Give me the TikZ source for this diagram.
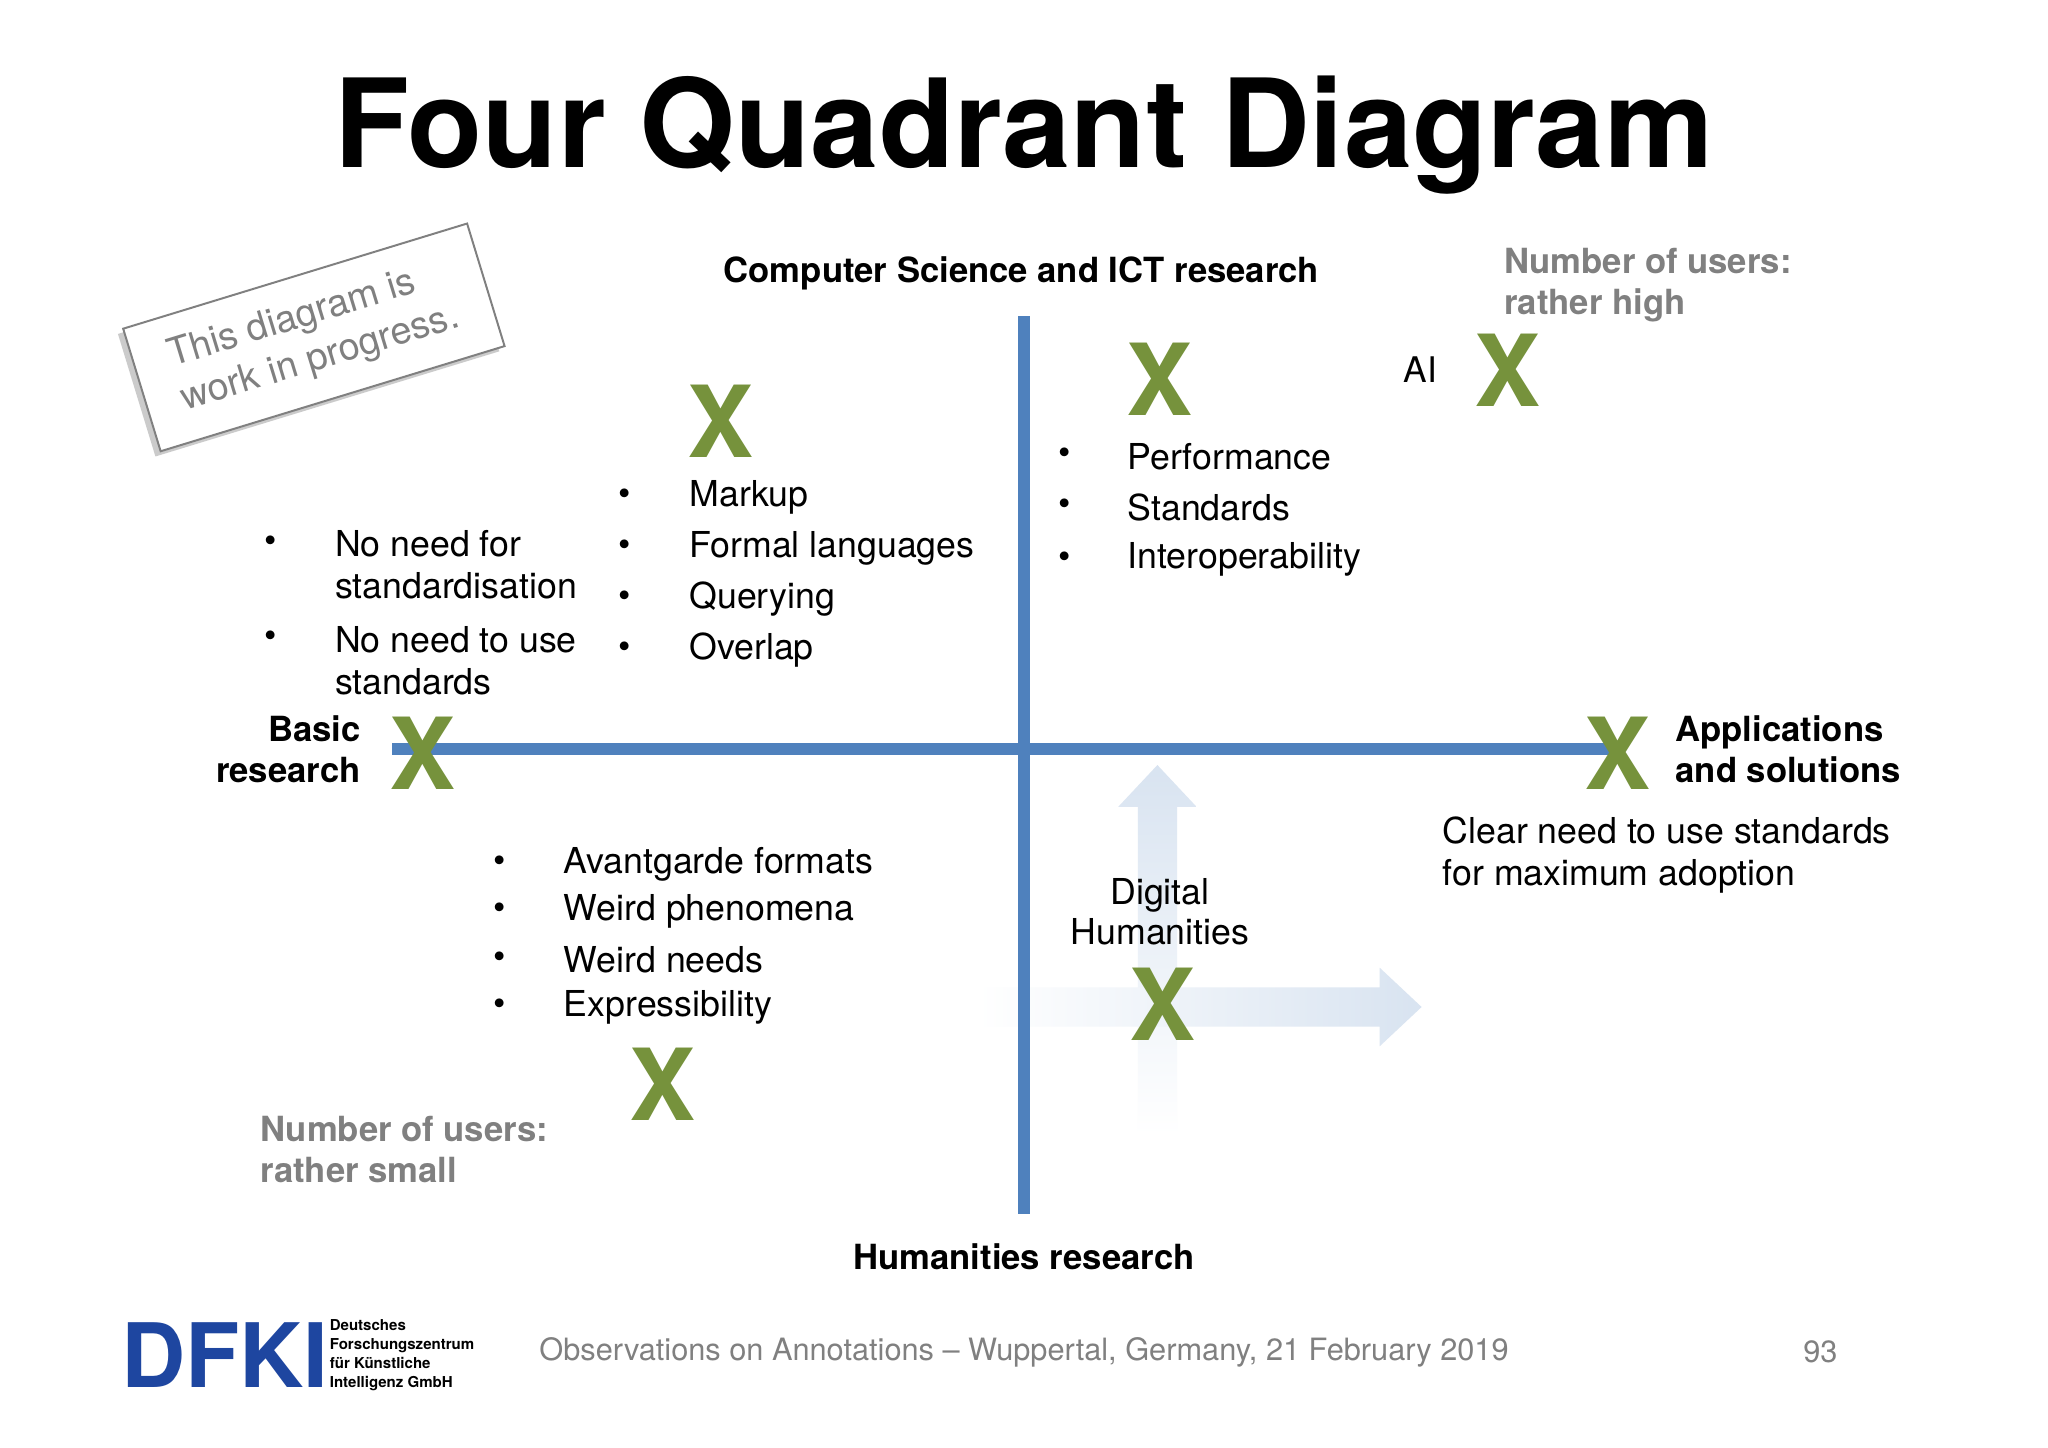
\documentclass[tikz,border=0pt]{standalone}
\usepackage{fontspec}
\setmainfont{TeX Gyre Heros}
\usetikzlibrary{shadows}
\definecolor{axisblue}{RGB}{79,129,189}
\definecolor{xgreen}{RGB}{118,146,60}
\definecolor{ugray}{RGB}{128,128,128}
\definecolor{logoblue}{RGB}{30,70,160}
\tikzset{
 xmark/.style={text=xgreen,font=\fontsize{76}{76}\selectfont\bfseries,inner sep=0},
 lbl/.style={font=\fontsize{26.5}{31}\selectfont\bfseries,inner sep=0},
 usr/.style={font=\fontsize{26.5}{31}\selectfont\bfseries,text=ugray,align=left,anchor=west,inner sep=0},
 item/.style={font=\fontsize{27.3}{32}\selectfont,anchor=west,inner sep=0,align=left},
 bul/.style={font=\fontsize{27}{32}\selectfont,inner sep=0},
 axis/.style={draw=axisblue,line width=9pt},
 fade/.style={left color=white,right color=axisblue!22,draw=none}
}
\begin{document}
\begin{tikzpicture}[x=1pt,y=1pt]
\useasboundingbox[fill=white] (0,-9.5) rectangle (1566,1097);
\node[font=\fontsize{94}{94}\selectfont\bfseries] (title) at (783,994) {Four Quadrant Diagram};
% faded arrows
\shade[fade,shading angle=0,bottom color=white,top color=axisblue!22] (870,229) -- (870,480) -- (855,480) -- (885,512) -- (915,480) -- (900,480) -- (900,229) -- cycle;
\shade[fade] (748,312) -- (1055,312) -- (1055,297) -- (1087,327) -- (1055,357) -- (1055,342) -- (748,342) -- cycle;
% axes
\coordinate (vt) at (783,855); \coordinate (vb) at (783,169);
\coordinate (hl) at (300,524); \coordinate (hr) at (1230,524);
\draw[axis] (vt) -- (vb);
\draw[axis] (hl) -- (hr);
\node[lbl] (cs) at (781,888) {Computer Science and ICT research};
\node[lbl] (hum) at (783,136) {Humanities research};
\node[lbl,align=right,anchor=east] (basic) at (276,524) {Basic\\research};
\node[lbl,align=left,anchor=west] (app) at (1281,524) {Applications\\and solutions};
% X marks
\node[xmark] (x1) at (551,775) {X};
\node[xmark] (x2) at (887,807) {X};
\node[xmark] (x3) at (1153,814) {X};
\node[xmark] (x4) at (323,521) {X};
\node[xmark] (x5) at (1237,521) {X};
\node[xmark] (x6) at (889,329) {X};
\node[xmark] (x7) at (507,268) {X};
\node[font=\fontsize{27}{32}\selectfont] (ai) at (1086,814) {AI};
\node[usr] (uh) at (1150,879) {Number of users:\\rather high};
\node[usr] (us) at (199,218) {Number of users:\\rather small};
% lists
\foreach \t/\y [count=\i] in {Markup/717,Formal languages/678,Querying/639,Overlap/600}{
 \node[bul] (b1\i) at (478,\y) {•}; \node[item] (l1\i) at (527,\y) {\t};}
\foreach \t/\y [count=\i] in {Performance/748,Standards/709,Interoperability/669}{
 \node[bul] (b2\i) at (814,\y) {•}; \node[item] (l2\i) at (862,\y) {\t};}
\foreach \t/\y [count=\i] in {Avantgarde formats/436,Weird phenomena/400,Weird needs/363,Expressibility/327}{
 \node[bul] (b4\i) at (382,\y) {•}; \node[item] (l4\i) at (431,\y) {\t};}
\node[bul] (b31) at (207,681) {•};
\node[item] (l31) at (256,665) {No need for\\standardisation};
\node[bul] (b32) at (207,608) {•};
\node[item] (l32) at (256,592) {No need to use\\standards};
\node[item] (clear) at (1103,443) {Clear need to use standards\\for maximum adoption};
\node[font=\fontsize{27.3}{31}\selectfont,align=center] (dh) at (887,400) {Digital\\Humanities};
% stamp
\node[draw=ugray,line width=1.5pt,fill=white,drop shadow={shadow xshift=-4pt,shadow yshift=-4pt,fill=black!40},
 rotate=17,minimum width=275pt,minimum height=98pt,align=left,text=ugray,
 font=\fontsize{29}{35}\selectfont] (stamp) at (240,839) {This diagram is\\work in progress.};
% footer
\node[text=logoblue,font=\fontsize{68}{68}\selectfont\bfseries,inner sep=0] (logo) at (172,61) {DFKI};
\node[anchor=west,align=left,font=\fontsize{11.5}{14.5}\selectfont\bfseries,inner sep=0] (dfkit) at (252,61) {Deutsches\\Forschungszentrum\\für Künstliche\\Intelligenz GmbH};
\node[text=ugray,font=\fontsize{23.5}{28}\selectfont] (foot) at (783,63) {Observations on Annotations – Wuppertal, Germany, 21 February 2019};
\node[text=ugray,font=\fontsize{23.5}{28}\selectfont] (page) at (1392,63) {93};
\end{tikzpicture}
\end{document}
